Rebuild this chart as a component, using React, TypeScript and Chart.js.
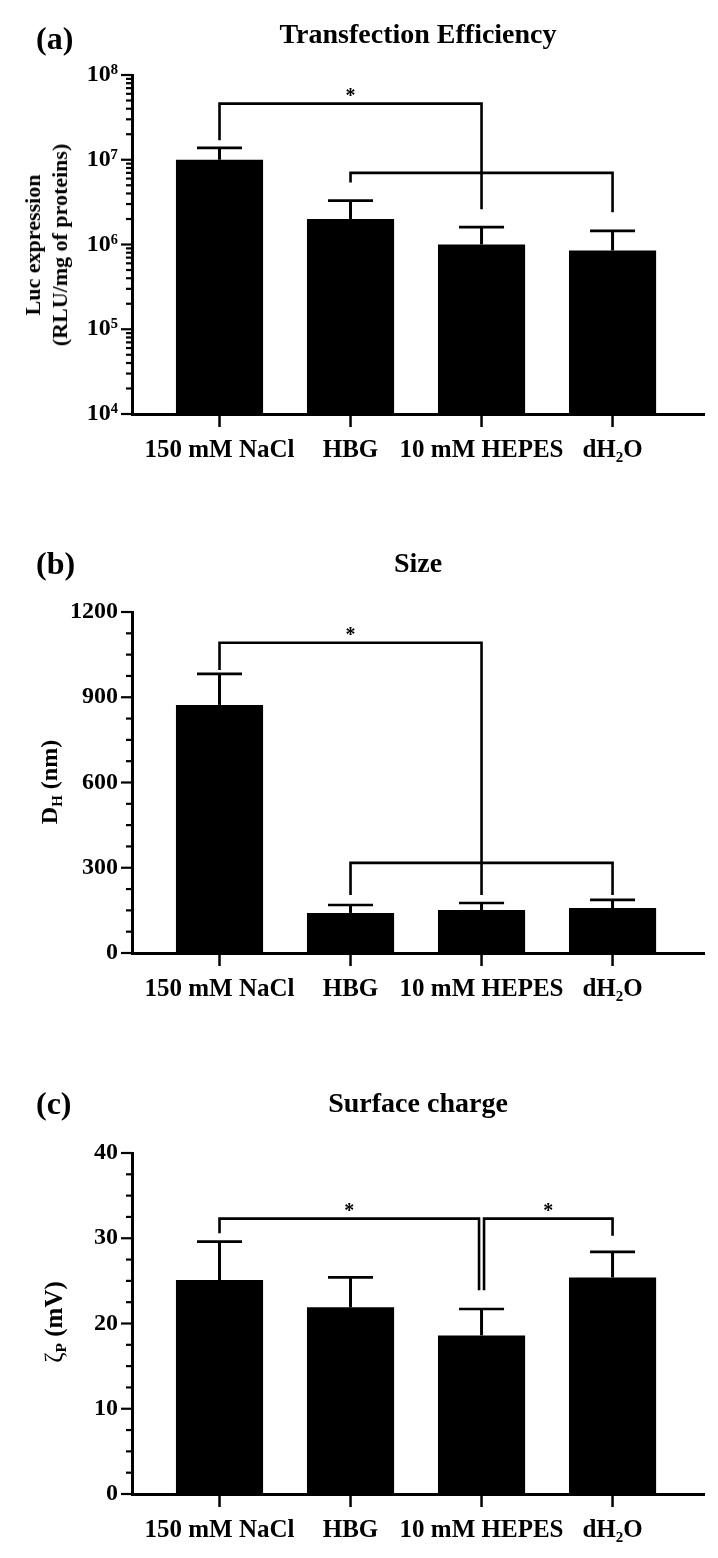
import React, { useEffect, useRef } from 'react';
import { Chart, registerables } from 'chart.js';

Chart.register(...registerables);

const FONT = "'Liberation Serif', 'DejaVu Serif', serif";

// ---------- data ----------
const categories = ['150 mM NaCl', 'HBG', '10 mM HEPES', 'dH₂O'];

// (a) Transfection efficiency (RLU/mg of proteins)
const lucMean = [1.0e7, 2.0e6, 1.0e6, 8.5e5];
const lucSD = [3.8e6, 1.3e6, 6.0e5, 6.0e5];
const lucTicks = [1e4, 1e5, 1e6, 1e7, 1e8];
const lucTickLabels = ['10⁴', '10⁵', '10⁶', '10⁷', '10⁸'];
const lucBrackets = [
  { from: 0, to: 2, y: 4.6e7, yFrom: 1.7e7, yTo: 2.6e6, label: '*' },
  { from: 1, to: 3, y: 7.0e6, yFrom: 5.4e6, yTo: 2.4e6, label: '' },
];

// (b) Size, D_H (nm)
const sizeMean = [873, 141, 151, 158];
const sizeSD = [109, 28, 25, 29];
const sizeTicks = [0, 300, 600, 900, 1200];
const sizeTickLabels = ['0', '300', '600', '900', '1200'];
const sizeBrackets = [
  { from: 0, to: 2, y: 1092, yFrom: 996, yTo: 204, label: '*' },
  { from: 1, to: 3, y: 317, yFrom: 204, yTo: 204, label: '' },
];

// (c) Surface charge, zeta potential (mV)
const chargeMean = [25.1, 21.9, 18.6, 25.4];
const chargeSD = [4.5, 3.5, 3.1, 3.0];
const chargeTicks = [0, 10, 20, 30, 40];
const chargeTickLabels = ['0', '10', '20', '30', '40'];
const chargeBrackets = [
  { from: 0, to: 2, y: 32.3, yFrom: 30.6, yTo: 23.9, label: '*' },
  { from: 2, to: 3, y: 32.3, yFrom: 23.9, yTo: 30.3, label: '*' },
];

type Bracket = { from: number; to: number; y: number; yFrom: number; yTo: number; label: string };

type PanelProps = {
  top: number;
  plotH: number;
  log: boolean;
  mean: number[];
  sd: number[];
  ticks: number[];
  tickLabels: string[];
  brackets: Bracket[];
};

const CANVAS_W = 718;
const CANVAS_H = 500;
const PLOT_TOP = 75;
const Y_AXIS_W = 132;
const RIGHT_PAD = 14;

function minorTicksFor(ticks: number[], log: boolean): number[] {
  const out: number[] = [];
  for (let i = 0; i < ticks.length - 1; i++) {
    const a = ticks[i];
    const b = ticks[i + 1];
    if (log) {
      for (let k = 2; k <= 9; k++) out.push(a * k);
    } else {
      const step = (b - a) / 4;
      for (let k = 1; k < 4; k++) out.push(a + step * k);
    }
  }
  return out;
}

function makeMarks(p: PanelProps) {
  return {
    id: 'marks',
    afterDatasetsDraw(chart: any) {
      const { ctx, chartArea } = chart;
      const xs = chart.scales.x;
      const ys = chart.scales.y;
      ctx.save();
      ctx.strokeStyle = '#000';
      ctx.fillStyle = '#000';
      ctx.lineCap = 'butt';
      ctx.lineJoin = 'miter';

      // y ticks (major + minor), outside
      ctx.lineWidth = 2.2;
      const left = chartArea.left;
      p.ticks.forEach((v) => {
        const y = ys.getPixelForValue(v);
        ctx.beginPath();
        ctx.moveTo(left - 11, y);
        ctx.lineTo(left, y);
        ctx.stroke();
      });
      minorTicksFor(p.ticks, p.log).forEach((v) => {
        const y = ys.getPixelForValue(v);
        ctx.beginPath();
        ctx.moveTo(left - 6, y);
        ctx.lineTo(left, y);
        ctx.stroke();
      });

      // x category ticks
      ctx.lineWidth = 2.5;
      categories.forEach((_, i) => {
        const x = xs.getPixelForValue(i);
        ctx.beginPath();
        ctx.moveTo(x, chartArea.bottom);
        ctx.lineTo(x, chartArea.bottom + 13);
        ctx.stroke();
      });

      // error bars (upper)
      p.mean.forEach((m, i) => {
        const x = xs.getPixelForValue(i);
        const y0 = ys.getPixelForValue(m);
        const y1 = ys.getPixelForValue(m + p.sd[i]);
        ctx.lineWidth = 3;
        ctx.beginPath();
        ctx.moveTo(x, y0);
        ctx.lineTo(x, y1);
        ctx.stroke();
        ctx.lineWidth = 2.7;
        ctx.beginPath();
        ctx.moveTo(x - 22.5, y1);
        ctx.lineTo(x + 22.5, y1);
        ctx.stroke();
      });

      // significance brackets
      ctx.lineWidth = 2.6;
      p.brackets.forEach((b) => {
        let xf = xs.getPixelForValue(b.from);
        let xt = xs.getPixelForValue(b.to);
        if (p.brackets.some((o) => o !== b && o.from === b.to)) xt -= 2.5;
        if (p.brackets.some((o) => o !== b && o.to === b.from)) xf += 2.5;
        const y = ys.getPixelForValue(b.y);
        const yf = ys.getPixelForValue(b.yFrom);
        const yt = ys.getPixelForValue(b.yTo);
        ctx.beginPath();
        ctx.moveTo(xf, yf);
        ctx.lineTo(xf, y);
        ctx.lineTo(xt, y);
        ctx.lineTo(xt, yt);
        ctx.stroke();
        if (b.label) {
          ctx.font = `bold 20px ${FONT}`;
          ctx.textAlign = 'center';
          ctx.textBaseline = 'alphabetic';
          ctx.fillText(b.label, (xf + xt) / 2, y - 2);
        }
      });
      ctx.restore();
    },
  };
}

function Panel(p: PanelProps) {
  const ref = useRef<HTMLCanvasElement | null>(null);
  useEffect(() => {
    if (!ref.current) return;
    const tickFont = { family: FONT, size: 24, weight: 'bold' as const };
    const chart = new Chart(ref.current, {
      type: 'bar',
      data: {
        datasets: [
          {
            data: p.mean.map((v, i) => ({ x: i, y: v })),
            backgroundColor: '#000',
            borderWidth: 0,
            barPercentage: 0.665,
            categoryPercentage: 1,
          },
        ],
      },
      options: {
        responsive: false,
        animation: false,
        devicePixelRatio: 1,
        layout: { padding: { top: PLOT_TOP, left: 0, right: RIGHT_PAD, bottom: 0 } },
        plugins: { legend: { display: false }, tooltip: { enabled: false }, title: { display: false } },
        scales: {
          x: {
            type: 'linear',
            offset: false,
            min: -0.668,
            max: 3.698,
            grid: { display: false, drawTicks: false },
            border: { display: true, width: 3, color: '#000' },
            afterBuildTicks: (s: any) => {
              s.ticks = categories.map((_, i) => ({ value: i }));
            },
            afterFit: (s: any) => {
              s.height = CANVAS_H - PLOT_TOP - p.plotH;
            },
            ticks: {
              autoSkip: false,
              maxRotation: 0,
              minRotation: 0,
              padding: 22,
              color: '#000',
              font: { family: FONT, size: 25, weight: 'bold' },
              callback: (_v: any, i: number) => categories[i],
            },
          },
          y: {
            type: p.log ? 'logarithmic' : 'linear',
            min: p.ticks[0],
            max: p.ticks[p.ticks.length - 1],
            grid: { display: false, drawTicks: false },
            border: { display: true, width: 3, color: '#000' },
            afterBuildTicks: (s: any) => {
              s.ticks = p.ticks.map((v) => ({ value: v }));
            },
            afterFit: (s: any) => {
              s.width = Y_AXIS_W;
            },
            ticks: {
              autoSkip: false,
              padding: 14,
              color: '#000',
              font: tickFont,
              callback: (_v: any, i: number) => p.tickLabels[i],
            },
          },
        },
      } as any,
      plugins: [makeMarks(p)],
    });
    return () => chart.destroy();
  }, []);
  return (
    <canvas
      ref={ref}
      width={CANVAS_W}
      height={CANVAS_H}
      style={{ position: 'absolute', left: 0, top: p.top, width: CANVAS_W, height: CANVAS_H }}
    />
  );
}

function Txt(props: {
  x: number;
  y: number;
  size: number;
  center?: boolean;
  rotate?: boolean;
  lineHeight?: number;
  children: React.ReactNode;
}) {
  const { x, y, size, center, rotate, lineHeight, children } = props;
  const tx = center || rotate ? '-50%' : '0';
  return (
    <div
      style={{
        position: 'absolute',
        left: x,
        top: y,
        transform: `translate(${tx}, -50%)${rotate ? ' rotate(-90deg)' : ''}`,
        fontFamily: FONT,
        fontWeight: 'bold',
        fontSize: size,
        lineHeight: lineHeight ? `${lineHeight}px` : 1.15,
        whiteSpace: 'nowrap',
        textAlign: 'center',
        color: '#000',
      }}
    >
      {children}
    </div>
  );
}

const subStyle: React.CSSProperties = { fontSize: '0.62em', verticalAlign: '-0.3em', lineHeight: 0 };

export default function App() {
  const titleX = (Y_AXIS_W + (CANVAS_W - RIGHT_PAD)) / 2;
  return (
    <div style={{ position: 'absolute', left: 0, top: 0, width: 718, height: 1558, background: '#fff', overflow: 'hidden' }}>
      <Panel top={0} plotH={339} log={true} mean={lucMean} sd={lucSD} ticks={lucTicks} tickLabels={lucTickLabels} brackets={lucBrackets} />
      <Panel top={537} plotH={341} log={false} mean={sizeMean} sd={sizeSD} ticks={sizeTicks} tickLabels={sizeTickLabels} brackets={sizeBrackets} />
      <Panel top={1078} plotH={341} log={false} mean={chargeMean} sd={chargeSD} ticks={chargeTicks} tickLabels={chargeTickLabels} brackets={chargeBrackets} />

      <Txt x={36} y={38} size={32}>(a)</Txt>
      <Txt x={titleX} y={34} size={28} center>Transfection Efficiency</Txt>
      <Txt x={46} y={245} size={22} rotate lineHeight={27}>
        Luc expression
        <br />
        (RLU/mg of proteins)
      </Txt>

      <Txt x={36} y={563} size={32}>(b)</Txt>
      <Txt x={titleX} y={563} size={28} center>Size</Txt>
      <Txt x={50} y={782} size={24} rotate>
        D<span style={subStyle}>H</span> (nm)
      </Txt>

      <Txt x={36} y={1103} size={32}>(c)</Txt>
      <Txt x={titleX} y={1103} size={28} center>Surface charge</Txt>
      <Txt x={54} y={1322} size={25} rotate>
        <span style={{ fontWeight: 'normal' }}>ζ</span>
        <span style={subStyle}>P</span> (mV)
      </Txt>
    </div>
  );
}
